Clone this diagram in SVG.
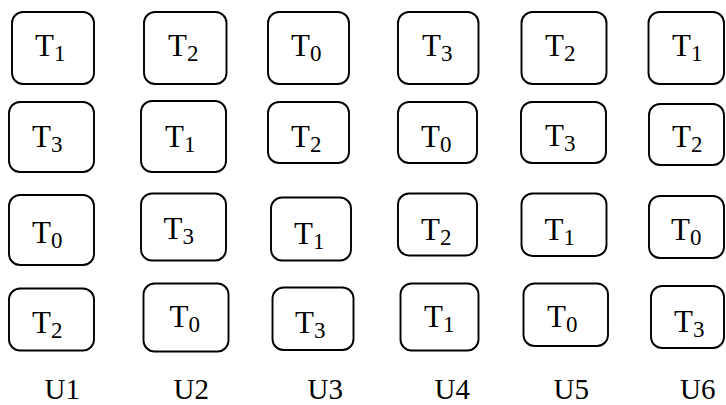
<svg xmlns="http://www.w3.org/2000/svg" width="726" height="405" viewBox="0 0 726 405">
<style>
.box{fill:#fff;stroke:#000;stroke-width:1.9}
.s{font-size:23px}
</style>
<rect width="726" height="405" fill="#fff"/>
<g id="connectors"/>
<g font-family="'Liberation Serif', 'Times New Roman', serif" font-size="31" fill="#000">
<!-- Row 1 -->
<g id="u1r1"><rect class="box" x="12" y="12" width="82" height="72" rx="11"/><text x="35" y="56">T<tspan class="s" dy="5">1</tspan></text></g>
<g id="u2r1"><rect class="box" x="144" y="12" width="82.5" height="72" rx="11"/><text x="168" y="56">T<tspan class="s" dy="5">2</tspan></text></g>
<g id="u3r1"><rect class="box" x="268" y="12" width="81" height="72" rx="11"/><text x="291" y="56">T<tspan class="s" dy="5">0</tspan></text></g>
<g id="u4r1"><rect class="box" x="398" y="12" width="80.5" height="72" rx="11"/><text x="422" y="56">T<tspan class="s" dy="5">3</tspan></text></g>
<g id="u5r1"><rect class="box" x="521.5" y="12" width="85" height="72" rx="11"/><text x="545" y="56">T<tspan class="s" dy="5">2</tspan></text></g>
<g id="u6r1"><rect class="box" x="648.5" y="12" width="75.5" height="72" rx="11"/><text x="672" y="56">T<tspan class="s" dy="5">1</tspan></text></g>
<!-- Row 2 -->
<g id="u1r2"><rect class="box" x="9" y="102" width="85" height="70" rx="11"/><text x="32" y="146.5">T<tspan class="s" dy="5">3</tspan></text></g>
<g id="u2r2"><rect class="box" x="141" y="101" width="85" height="71" rx="11"/><text x="165" y="146.5">T<tspan class="s" dy="5">1</tspan></text></g>
<g id="u3r2"><rect class="box" x="268" y="102" width="81" height="61" rx="11"/><text x="291" y="146.5">T<tspan class="s" dy="5">2</tspan></text></g>
<g id="u4r2"><rect class="box" x="398" y="102" width="79" height="61" rx="11"/><text x="421" y="146.5">T<tspan class="s" dy="5">0</tspan></text></g>
<g id="u5r2"><rect class="box" x="521" y="102" width="85" height="61" rx="11"/><text x="545" y="146">T<tspan class="s" dy="5">3</tspan></text></g>
<g id="u6r2"><rect class="box" x="649" y="104" width="75" height="61" rx="11"/><text x="672" y="146.5">T<tspan class="s" dy="5">2</tspan></text></g>
<!-- Row 3 -->
<g id="u1r3"><rect class="box" x="9" y="195" width="85" height="70" rx="11"/><text x="32" y="242.7">T<tspan class="s" dy="5">0</tspan></text></g>
<g id="u2r3"><rect class="box" x="141" y="193.5" width="85" height="67" rx="11"/><text x="163.5" y="239.3">T<tspan class="s" dy="5">3</tspan></text></g>
<g id="u3r3"><rect class="box" x="271" y="197.5" width="80" height="63" rx="11"/><text x="294" y="244.3">T<tspan class="s" dy="5">1</tspan></text></g>
<g id="u4r3"><rect class="box" x="398" y="193.5" width="79" height="62" rx="11"/><text x="421" y="240">T<tspan class="s" dy="5">2</tspan></text></g>
<g id="u5r3"><rect class="box" x="521.5" y="193.5" width="85" height="62.5" rx="11"/><text x="544.5" y="240">T<tspan class="s" dy="5">1</tspan></text></g>
<g id="u6r3"><rect class="box" x="649" y="196" width="75" height="62" rx="11"/><text x="671" y="240">T<tspan class="s" dy="5">0</tspan></text></g>
<!-- Row 4 -->
<g id="u1r4"><rect class="box" x="9" y="288.5" width="85" height="62" rx="11"/><text x="32" y="333.3">T<tspan class="s" dy="5">2</tspan></text></g>
<g id="u2r4"><rect class="box" x="143.5" y="283.5" width="85" height="68" rx="11"/><text x="169.5" y="326.7">T<tspan class="s" dy="5">0</tspan></text></g>
<g id="u3r4"><rect class="box" x="272.5" y="287.5" width="81" height="62.5" rx="11"/><text x="295" y="333.3">T<tspan class="s" dy="5">3</tspan></text></g>
<g id="u4r4"><rect class="box" x="400.5" y="283.5" width="78" height="67" rx="11"/><text x="424" y="326.7">T<tspan class="s" dy="5">1</tspan></text></g>
<g id="u5r4"><rect class="box" x="523.5" y="283.5" width="84.5" height="62.5" rx="11"/><text x="547" y="327.3">T<tspan class="s" dy="5">0</tspan></text></g>
<g id="u6r4"><rect class="box" x="651" y="286" width="73" height="62" rx="11"/><text x="674" y="331.7">T<tspan class="s" dy="5">3</tspan></text></g>
<!-- Column labels -->
<g id="labels" font-size="29">
<text x="44.5" y="398.5">U1</text>
<text x="173.5" y="398.5">U2</text>
<text x="307.5" y="398.5">U3</text>
<text x="434.5" y="398.5">U4</text>
<text x="553.5" y="398.5">U5</text>
<text x="680" y="398.5">U6</text>
</g>
</g>
</svg>
